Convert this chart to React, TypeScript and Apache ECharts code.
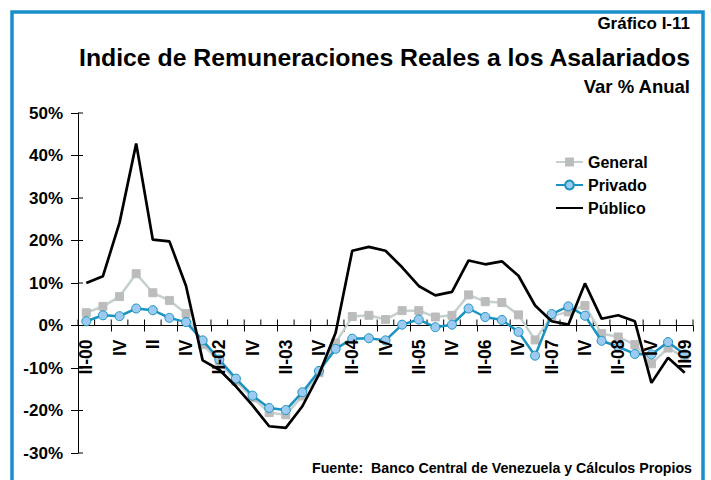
import React, { useEffect, useRef } from "react";
import * as echarts from "echarts";

const categories = [
  "II-00", "III", "IV", "I-01", "II", "III", "IV", "I-02",
  "II-02", "III", "IV", "I-03", "II-03", "III", "IV", "I-04",
  "II-04", "III", "IV", "I-05", "II-05", "III", "IV", "I-06",
  "II-06", "III", "IV", "I-07", "II-07", "III", "IV", "I-08",
  "II-08", "III", "IV", "I-09", "II09",
];

const general = [
  3.0, 4.5, 6.8, 12.2, 7.7, 5.9, 2.8, -4.5,
  -8.5, -13.1, -17.0, -20.5, -21.0, -16.6, -11.1, -4.1,
  2.1, 2.4, 1.4, 3.5, 3.5, 2.0, 2.4, 7.2,
  5.6, 5.4, 2.5, -3.4, 2.2, 3.2, 4.7, -1.9,
  -2.7, -4.5, -9.0, -5.3, -7.5,
];

const privado = [
  1.0, 2.4, 2.2, 4.0, 3.6, 1.8, 0.8, -3.5,
  -8.0, -12.5, -16.5, -19.4, -19.9, -15.7, -10.7, -5.5,
  -3.1, -3.0, -3.5, 0.2, 1.4, -0.4, 0.2, 4.0,
  2.0, 1.3, -1.5, -7.1, 2.7, 4.5, 2.3, -3.6,
  -5.0, -6.7, -6.8, -3.9, -6.8,
];

const publico = [
  10.0, 11.6, 24.2, 42.8, 20.2, 19.8, 9.3, -8.2,
  -10.4, -14.3, -18.8, -23.7, -24.1, -19.0, -11.5, -1.7,
  17.6, 18.5, 17.6, 13.7, 9.3, 7.1, 7.9, 15.3,
  14.4, 15.1, 11.7, 4.7, 1.0, 0.2, 9.9, 1.6,
  2.4, 1.0, -13.5, -7.6, -11.1,
];

const yTicks = [-30, -20, -10, 0, 10, 20, 30, 40, 50];
const yMin = -30;
const yMax = 50;
const yStep = 10;

const FONT = "'Liberation Sans', Arial, sans-serif";
const BLUE_FRAME = "#1a8fca";

export default function App() {
  const ref = useRef<HTMLDivElement>(null);

  useEffect(() => {
    if (!ref.current) return;
    const chart = echarts.init(ref.current, undefined, { renderer: "svg" });

    // inner half of the crossing tick marks, placed with the axes' own scales
    const xInnerTicks = (params: any, api: any) => {
      const i = api.value(0);
      const band = api.size([1, 0])[0];
      const p = api.coord([i, 0]);
      const children: any[] = [
        {
          type: "line",
          shape: { x1: p[0] - band / 2, y1: p[1], x2: p[0] - band / 2, y2: p[1] - 6 },
          style: { stroke: "#000", lineWidth: 1 },
        },
      ];
      if (i === categories.length - 1) {
        children.push({
          type: "line",
          shape: { x1: p[0] + band / 2, y1: p[1], x2: p[0] + band / 2, y2: p[1] - 6 },
          style: { stroke: "#000", lineWidth: 1 },
        });
      }
      return { type: "group", children };
    };
    const yInnerTicks = (params: any, api: any) => {
      const band = api.size([1, 0])[0];
      const p = api.coord([0, api.value(1)]);
      const x = p[0] - band / 2;
      return {
        type: "line",
        shape: { x1: x, y1: p[1], x2: x + 5, y2: p[1] },
        style: { stroke: "#000", lineWidth: 1 },
      };
    };
    // category labels hanging below the zero line (every second quarter)
    const xLabels = (params: any, api: any) => {
      const i = api.value(0);
      if (i % 2 !== 0) return null;
      const p = api.coord([i, 0]);
      return {
        type: "text",
        x: p[0],
        y: p[1] + 14,
        rotation: Math.PI / 2,
        style: {
          text: categories[i],
          fontFamily: FONT,
          fontWeight: "bold",
          fontSize: 17.5,
          fill: "#000",
          textAlign: "right",
          textVerticalAlign: "middle",
        },
      };
    };

    const option: any = {
      animation: false,
      backgroundColor: "#ffffff",
      textStyle: { fontFamily: FONT },
      grid: {
        left: 78,
        right: 18,
        top: 113,
        bottom: 27,
        containLabel: false,
        outerBoundsMode: "none",
      },
      legend: {
        orient: "vertical",
        left: 550,
        top: 149,
        itemWidth: 27,
        itemHeight: 11,
        itemGap: 7,
        textStyle: { fontFamily: FONT, fontWeight: "bold", fontSize: 16, color: "#000" },
        data: [
          { name: "General" },
          { name: "Privado" },
          { name: "Público", itemStyle: { opacity: 0 } },
        ],
      },
      xAxis: {
        type: "category",
        data: categories,
        boundaryGap: true,
        axisLine: { onZero: true, lineStyle: { color: "#000", width: 1 } },
        axisTick: { show: true, length: 6, lineStyle: { color: "#000" } },
        axisLabel: { show: false },
        splitLine: { show: false },
      },
      yAxis: {
        type: "value",
        min: yMin,
        max: yMax,
        interval: yStep,
        axisLine: { show: true, lineStyle: { color: "#000", width: 1 } },
        axisTick: { show: true, length: 7, lineStyle: { color: "#000" } },
        axisLabel: {
          formatter: (v: number) => `${v}%`,
          margin: 15,
          color: "#000",
          fontFamily: FONT,
          fontWeight: "bold",
          fontSize: 17,
        },
        splitLine: { show: false },
      },
      series: [
        {
          type: "custom",
          name: "xticks",
          renderItem: xInnerTicks,
          data: categories.map((_, i) => [i, 0]),
          silent: true,
          z: 1,
        },
        {
          type: "custom",
          name: "yticks",
          renderItem: yInnerTicks,
          data: yTicks.map((v) => [0, v]),
          silent: true,
          z: 1,
        },
        {
          name: "General",
          type: "line",
          data: general,
          symbol: "rect",
          symbolSize: 8,
          lineStyle: { color: "#c5d0d0", width: 2.5 },
          itemStyle: { color: "#bcbcbc", borderColor: "#bcbcbc" },
          z: 2,
        },
        {
          name: "Privado",
          type: "line",
          data: privado,
          symbol: "circle",
          symbolSize: 9,
          lineStyle: { color: "#1a93c0", width: 2.5 },
          itemStyle: { color: "#9ccaf0", borderColor: "#1a93c0", borderWidth: 1 },
          z: 3,
        },
        {
          type: "custom",
          name: "xlabels",
          renderItem: xLabels,
          data: categories.map((_, i) => [i, 0]),
          silent: true,
          clip: false,
          z: 4,
        },
        {
          name: "Público",
          type: "line",
          data: publico,
          symbol: "none",
          lineStyle: { color: "#000000", width: 2.7 },
          itemStyle: { color: "#000000" },
          z: 5,
        },
      ],
      graphic: [
        {
          type: "rect",
          shape: { x: 12, y: 12, width: 691, height: 500 },
          style: { fill: "none", stroke: BLUE_FRAME, lineWidth: 3.5 },
          silent: true,
        },
        {
          type: "text",
          x: 690,
          y: 23,
          style: {
            text: "Gráfico I-11",
            fontFamily: FONT,
            fontWeight: "bold",
            fontSize: 17,
            fill: "#000",
            textAlign: "right",
            textVerticalAlign: "middle",
          },
        },
        {
          type: "text",
          x: 690,
          y: 57,
          style: {
            text: "Indice de Remuneraciones Reales a los Asalariados",
            fontFamily: FONT,
            fontWeight: "bold",
            fontSize: 24.8,
            fill: "#000",
            textAlign: "right",
            textVerticalAlign: "middle",
          },
        },
        {
          type: "text",
          x: 690,
          y: 86,
          style: {
            text: "Var % Anual",
            fontFamily: FONT,
            fontWeight: "bold",
            fontSize: 18.5,
            fill: "#000",
            textAlign: "right",
            textVerticalAlign: "middle",
          },
        },
        {
          type: "text",
          x: 692,
          y: 468,
          style: {
            text: "Fuente:  Banco Central de Venezuela y Cálculos Propios",
            fontFamily: FONT,
            fontWeight: "bold",
            fontSize: 14.2,
            fill: "#000",
            textAlign: "right",
            textVerticalAlign: "middle",
          },
        },
      ],
    };
    chart.setOption(option);
    return () => chart.dispose();
  }, []);

  return (
    <div
      ref={ref}
      style={{ position: "fixed", left: 0, top: 0, width: 711, height: 480, background: "#fff" }}
    />
  );
}
